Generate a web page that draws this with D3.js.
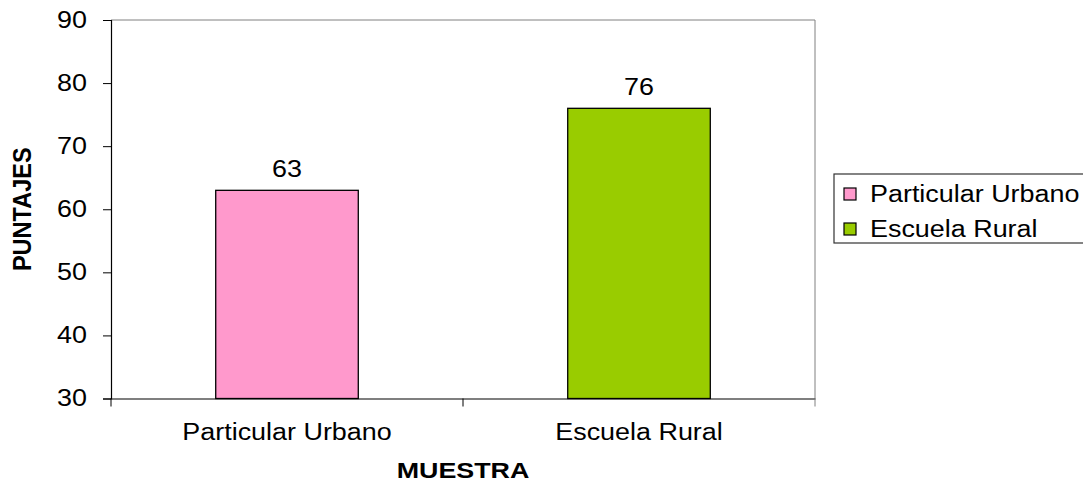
<!DOCTYPE html>
<html>
<head>
<meta charset="utf-8">
<script src="https://cdn.jsdelivr.net/npm/d3@7"></script>
<style>
  body { margin: 0; background: #fff; }
  svg { display: block; font-family: "Liberation Sans", Arial, sans-serif; }
</style>
</head>
<body>
<svg id="chart" width="1083" height="484"></svg>
<script>
// data
const categories = ["Particular Urbano", "Escuela Rural"];
const scores     = [63, 76];
const yTicks     = [30, 40, 50, 60, 70, 80, 90];
const xTitle     = "MUESTRA";
const yTitle     = "PUNTAJES";

const svg = d3.select("#chart"),
      m   = {top: 20, right: 268, bottom: 85.5, left: 111},
      iw  = 1083 - m.left - m.right,
      ih  = 484 - m.top - m.bottom;

const color = d3.scaleOrdinal()
    .domain(categories)
    .range(["#ff99cc", "#99cc00"]);

// the source picture is stretched sideways, so text gets widened a bit
function widen(sel, k) {
  sel.each(function() {
    const w = this.getComputedTextLength();
    this.setAttribute("textLength", w * k);
    this.setAttribute("lengthAdjust", "spacingAndGlyphs");
  });
}

const x = d3.scaleBand()
    .domain(categories)
    .range([0, iw])
    .paddingInner(0);

const y = d3.scaleLinear()
    .domain([d3.min(yTicks), d3.max(yTicks)])
    .range([ih, 0]);

const g = svg.append("g")
    .attr("transform", `translate(${m.left},${m.top})`);

// plot frame (top + right in gray)
g.append("line")
    .attr("x1", 0).attr("x2", iw).attr("y1", 0).attr("y2", 0)
    .attr("stroke", "#808080");
g.append("line")
    .attr("x1", iw).attr("x2", iw).attr("y1", 0).attr("y2", ih)
    .attr("stroke", "#808080");

// bars
const bw = x.bandwidth() * 0.405;
g.selectAll("rect.bar")
  .data(categories).enter().append("rect")
    .attr("class", "bar")
    .attr("x",      d => x(d) + x.bandwidth() / 2 - bw / 2)
    .attr("y",      (d, i) => y(scores[i]))
    .attr("width",  bw)
    .attr("height", (d, i) => ih - y(scores[i]))
    .attr("fill",   d => color(d))
    .attr("stroke", "#000")
    .attr("stroke-width", 1.3);

// value labels
g.selectAll("text.val")
  .data(categories).enter().append("text")
    .attr("class", "val")
    .attr("x", d => x(d) + x.bandwidth() / 2)
    .attr("y", (d, i) => y(scores[i]) - 13)
    .attr("text-anchor", "middle")
    .style("font-size", "23px")
    .attr("fill", "#000")
    .text((d, i) => scores[i])
    .call(widen, 1.17);

// y axis
const ya = g.append("g")
    .call(d3.axisLeft(y).tickValues(yTicks).tickSize(8).tickPadding(16).tickFormat(d3.format("d")));
ya.select(".domain").attr("stroke", "#000").attr("stroke-width", 1.2);
ya.selectAll(".tick line").attr("stroke", "#000");
ya.selectAll("text")
    .style("font-size", "23px")
    .attr("fill", "#000")
    .call(widen, 1.17);

// x axis: labels centered, ticks at category boundaries
const xa = g.append("g")
    .attr("transform", `translate(0,${ih})`)
    .call(d3.axisBottom(x).tickSize(0).tickPadding(25).tickSizeOuter(0));
xa.select(".domain").attr("stroke", "#000").attr("stroke-width", 1.2);
xa.selectAll("text")
    .style("font-size", "23px")
    .attr("fill", "#000")
    .call(widen, 1.17);

const bounds = categories.map(d => x(d)).concat([x.range()[1]]);
xa.selectAll("line.bound")
  .data(bounds).enter().append("line")
    .attr("class", "bound")
    .attr("x1", d => d).attr("x2", d => d)
    .attr("y1", 0).attr("y2", 8)
    .attr("stroke", (d, i) => i === bounds.length - 1 ? "#808080" : "#000");

// axis titles
svg.append("text")
    .attr("x", m.left + iw / 2)
    .attr("y", 478)
    .attr("text-anchor", "middle")
    .style("font-size", "22px")
    .style("font-weight", "bold")
    .text(xTitle)
    .call(widen, 1.22);

svg.append("text")
    .attr("transform", `translate(31,${m.top + ih / 2}) rotate(-90) scale(1,1.2)`)
    .attr("text-anchor", "middle")
    .style("font-size", "22px")
    .style("font-weight", "bold")
    .text(yTitle)
    .call(widen, 1.07);

// legend
const legend = svg.append("g")
    .attr("transform", "translate(834,174)");

legend.append("rect")
    .attr("width", 270).attr("height", 69)
    .attr("fill", "#fff")
    .attr("stroke", "#333")
    .attr("stroke-width", 1.2);

categories.forEach((d, i) => {
  const row = legend.append("g")
      .attr("transform", `translate(10, ${14 + i * 35})`);

  row.append("rect")
      .attr("width", 12)
      .attr("height", 12)
      .attr("fill", color(d))
      .attr("stroke", "#000")
      .attr("stroke-width", 1.2);

  row.append("text")
      .attr("x", 26)
      .attr("y", 6)
      .attr("dy", "0.35em")
      .style("font-size", "23px")
      .attr("fill", "#000")
      .text(d)
      .call(widen, 1.17);
});
</script>
</body>
</html>
